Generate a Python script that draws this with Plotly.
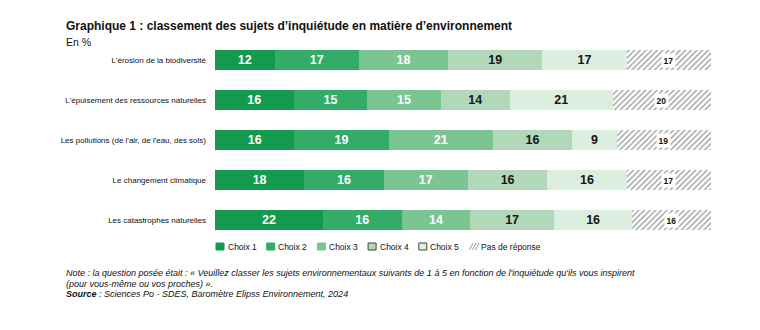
import plotly.graph_objects as go

# Sujets classés (de haut en bas) et répartition des réponses, en %
sujets = [
    "L'érosion de la biodiversité",
    "L'épuisement des ressources naturelles",
    "Les pollutions (de l'air, de l'eau, des sols)",
    "Le changement climatique",
    "Les catastrophes naturelles",
]
choix_1 = [12, 16, 16, 18, 22]
choix_2 = [17, 15, 19, 16, 16]
choix_3 = [18, 15, 21, 17, 14]
choix_4 = [19, 14, 16, 16, 17]
choix_5 = [17, 21, 9, 16, 16]
pas_de_reponse = [17, 20, 19, 17, 16]

noms = ["Choix 1", "Choix 2", "Choix 3", "Choix 4", "Choix 5"]
series = [choix_1, choix_2, choix_3, choix_4, choix_5]
couleurs = ["#139a4e", "#33ab69", "#7cc593", "#b0d8b9", "#dbeee0"]
couleurs_texte = ["white", "white", "white", "#161616", "#161616"]

FONT = "Liberation Sans, Arial, Helvetica, sans-serif"

# Plot area geometry (pixels) used to place the page-level texts
W, H = 760, 330
L, R, T, B = 215, 49, 40, 90
PW, PH = W - L - R, H - T - B


def px2x(px):
    return (px - L) / PW


def px2y(py):
    return (H - B - py) / PH


fig = go.Figure()

for nom, vals, col, tcol in zip(noms, series, couleurs, couleurs_texte):
    fig.add_trace(go.Bar(
        y=sujets, x=vals, orientation="h", name=nom,
        marker=dict(color=col, line=dict(width=0)),
        text=[str(v) for v in vals], textposition="inside",
        insidetextanchor="middle", textangle=0, constraintext="none",
        textfont=dict(family=FONT, size=12.5, color=tcol, weight="bold"),
        hoverinfo="skip", showlegend=False,
    ))

fig.add_trace(go.Bar(
    y=sujets, x=pas_de_reponse, orientation="h", name="Pas de réponse",
    marker=dict(color="white", line=dict(width=0),
                pattern=dict(shape="/", fgcolor="#2e2e2e", bgcolor="white",
                             size=4, solidity=0.32)),
    hoverinfo="skip", showlegend=False,
))

annotations = []

# Value of "Pas de réponse" in a white box at the centre of the hatched segment
for i, s in enumerate(sujets):
    autres = sum(v[i] for v in series)
    total = autres + pas_de_reponse[i]
    centre = (autres + pas_de_reponse[i] / 2) / total * 100
    annotations.append(dict(
        x=centre, y=s, xref="x", yref="y", text=str(pas_de_reponse[i]),
        showarrow=False, bgcolor="white", borderpad=1.5,
        font=dict(family=FONT, size=8.5, color="#111111", weight="bold"),
    ))

# Title, unit and notes
annotations += [
    dict(x=px2x(64), y=px2y(26), xref="paper", yref="paper", xanchor="left",
         yanchor="middle", showarrow=False,
         text="<b>Graphique 1 : classement des sujets d’inquiétude en matière d’environnement</b>",
         font=dict(family=FONT, size=12, color="#111111")),
    dict(x=px2x(64), y=px2y(42), xref="paper", yref="paper", xanchor="left",
         yanchor="middle", showarrow=False, text="En %",
         font=dict(family=FONT, size=10.5, color="#111111")),
    dict(x=px2x(64), y=px2y(273), xref="paper", yref="paper", xanchor="left",
         yanchor="middle", showarrow=False,
         text="<i>Note : la question posée était : « Veuillez classer les sujets environnementaux "
              "suivants de 1 à 5 en fonction de l'inquiétude qu'ils vous inspirent</i>",
         font=dict(family=FONT, size=9, color="#111111")),
    dict(x=px2x(64), y=px2y(283.5), xref="paper", yref="paper", xanchor="left",
         yanchor="middle", showarrow=False,
         text="<i>(pour vous-même ou vos proches) ».</i>",
         font=dict(family=FONT, size=9, color="#111111")),
    dict(x=px2x(64), y=px2y(294), xref="paper", yref="paper", xanchor="left",
         yanchor="middle", showarrow=False,
         text="<b><i>Source</i></b><i> : Sciences Po - SDES, Baromètre Elipss Environnement, 2024</i>",
         font=dict(family=FONT, size=9, color="#111111")),
]

# Legend row
shapes = []
legende = noms + ["Pas de réponse"]
bords = ["#139a4e", "#33ab69", "#7cc593", "#444444", "#444444"]
ly = 246.5
for k, nom in enumerate(legende):
    x0 = 216 + k * 50.7
    if k < 5:
        shapes.append(dict(type="rect", xref="paper", yref="paper",
                           x0=px2x(x0), x1=px2x(x0 + 8), y0=px2y(ly + 3.5), y1=px2y(ly - 3.5),
                           fillcolor=couleurs[k], line=dict(color=bords[k], width=1)))
    else:
        for d in (0, 3, 6):
            shapes.append(dict(type="line", xref="paper", yref="paper",
                               x0=px2x(x0 + d), y0=px2y(ly + 3.5),
                               x1=px2x(x0 + d + 3.5), y1=px2y(ly - 3.5),
                               line=dict(color="#9a9a9a", width=1)))
    annotations.append(dict(
        x=px2x(x0 + 9.5), y=px2y(ly), xref="paper", yref="paper", xanchor="left",
        yanchor="middle", showarrow=False, text=nom,
        font=dict(family=FONT, size=8.5, color="#111111")))

fig.update_layout(
    width=W, height=H, barmode="stack", barnorm="percent", bargap=0.5,
    margin=dict(l=L, r=R, t=T, b=B, pad=0),
    paper_bgcolor="white", plot_bgcolor="white",
    xaxis=dict(range=[0, 100], visible=False, fixedrange=True),
    yaxis=dict(type="category", range=[4.5, -0.5], showgrid=False, zeroline=False,
               showline=False, ticks="", ticklabelstandoff=8,
               tickfont=dict(family=FONT, size=8, color="#111111")),
    annotations=annotations, shapes=shapes, showlegend=False,
)

fig.write_html("out.html", config=dict(displayModeBar=False))
